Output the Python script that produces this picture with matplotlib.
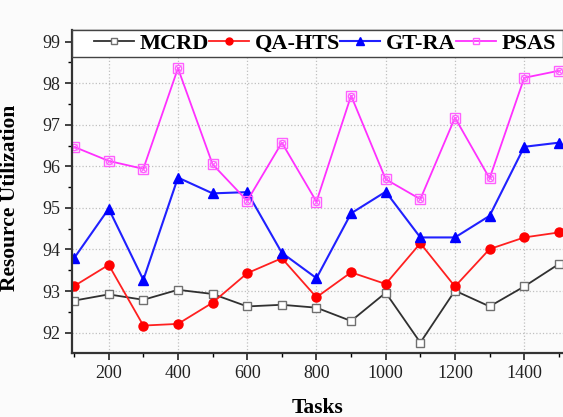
import matplotlib
matplotlib.use("Agg")
import matplotlib.pyplot as plt
from matplotlib.ticker import MultipleLocator
from matplotlib.patches import Rectangle

tasks = [100, 200, 300, 400, 500, 600, 700, 800, 900, 1000, 1100, 1200, 1300, 1400, 1500]
mcrd = [92.77, 92.92, 92.79, 93.03, 92.93, 92.63, 92.67, 92.60, 92.28, 92.96, 91.76, 93.01, 92.63, 93.11, 93.65]
qa_hts = [93.12, 93.63, 92.17, 92.21, 92.72, 93.43, 93.79, 92.85, 93.45, 93.17, 94.15, 93.11, 94.01, 94.29, 94.41]
gt_ra = [93.79, 94.98, 93.27, 95.73, 95.35, 95.38, 93.92, 93.31, 94.87, 95.39, 94.29, 94.29, 94.81, 96.47, 96.57]
psas = [96.47, 96.13, 95.94, 98.36, 96.05, 95.17, 96.57, 95.15, 97.70, 95.69, 95.21, 97.17, 95.71, 98.13, 98.30]

plt.rcParams['font.family'] = ['Liberation Serif', 'DejaVu Serif']

fig = plt.figure(figsize=(5.63, 4.17), dpi=100)
fig.patch.set_facecolor('#fbfbfb')
ax = fig.add_axes([72/563, (417-353)/417, 1 - 72/563, (353-30)/417])
ax.set_facecolor('#fbfbfb')

ax.plot(tasks, mcrd, color='#303030', lw=1.3, marker='s', ms=5.5, mfc='white', mec='#707070', mew=1.0)
ax.plot(tasks, qa_hts, color='#ff2020', lw=1.3, marker='o', ms=6.5, mfc='#ff0000', mec='#ff0000')
ax.plot(tasks, gt_ra, color='#2020ff', lw=1.5, marker='^', ms=7, mfc='#0000ff', mec='#0000ff')
ax.plot(tasks, psas, color='#ff30ff', lw=1.3, marker='s', ms=6.5, mfc='none', mec='#ff60ff', mew=1.0)
ax.plot(tasks, psas, color='none', lw=0, marker='o', ms=4.5, mfc='none', mec='#ff60ff', mew=0.9)
ax.plot(tasks, psas, color='none', lw=0, marker='x', ms=4.5, mec='#ff60ff', mew=0.8)

# legend handles
ax.plot([], [], color='#303030', lw=1.3, marker='s', ms=4.5, mfc='white', mec='#707070', mew=1.0, label='MCRD')
ax.plot([], [], color='#ff2020', lw=1.3, marker='o', ms=5, mfc='#ff0000', mec='#ff0000', label='QA-HTS')
ax.plot([], [], color='#2020ff', lw=1.5, marker='^', ms=5.5, mfc='#0000ff', mec='#0000ff', label='GT-RA')
ax.plot([], [], color='#ff30ff', lw=1.3, marker='s', ms=5, mfc='none', mec='#ff60ff', mew=1.0, label='PSAS')

ax.set_xlim(94, 1512)
ax.set_ylim(91.51, 99.28)
ax.xaxis.set_minor_locator(MultipleLocator(100))
ax.yaxis.set_minor_locator(MultipleLocator(0.5))
ax.set_xticks([200, 400, 600, 800, 1000, 1200, 1400])
ax.set_yticks([92, 93, 94, 95, 96, 97, 98, 99])
ax.tick_params(axis='both', which='major', direction='out', length=5, width=1.2, labelsize=13, colors='#222222')
ax.tick_params(axis='both', which='minor', direction='out', length=3, width=1.0)
ax.grid(True, which='major', color='#c0c0c0', linestyle=':', linewidth=0.9)

for s in ['left', 'bottom']:
    ax.spines[s].set_linewidth(1.6)
    ax.spines[s].set_color('#333333')
ax.spines['top'].set_linewidth(1.0)
ax.spines['top'].set_color('#555555')
ax.spines['right'].set_visible(False)

ax.set_xlabel('Tasks', fontsize=15.5, fontweight='bold', labelpad=12)
ax.set_ylabel('Resource Utilization', fontsize=15.5, fontweight='bold', labelpad=8)
ax.yaxis.set_label_coords(-0.105, 0.48)

# legend strip
strip_bottom = (353 - 57) / 323
ax.add_patch(Rectangle((0, strip_bottom), 1.0, 1.0 - strip_bottom, transform=ax.transAxes,
                       facecolor='white', edgecolor='#444444', lw=1.0, zorder=5, clip_on=False))

leg = ax.legend(loc='center', bbox_to_anchor=((325 - 72) / 491, (353 - 43.5) / 323), ncol=4,
                borderaxespad=0, frameon=False,
                handlelength=1.8, handletextpad=0.25, columnspacing=0.0, borderpad=0.0,
                prop={'family': 'Liberation Serif', 'weight': 'bold', 'size': 16})
leg.set_zorder(6)

fig.savefig('out.png', dpi=100, facecolor=fig.get_facecolor())
